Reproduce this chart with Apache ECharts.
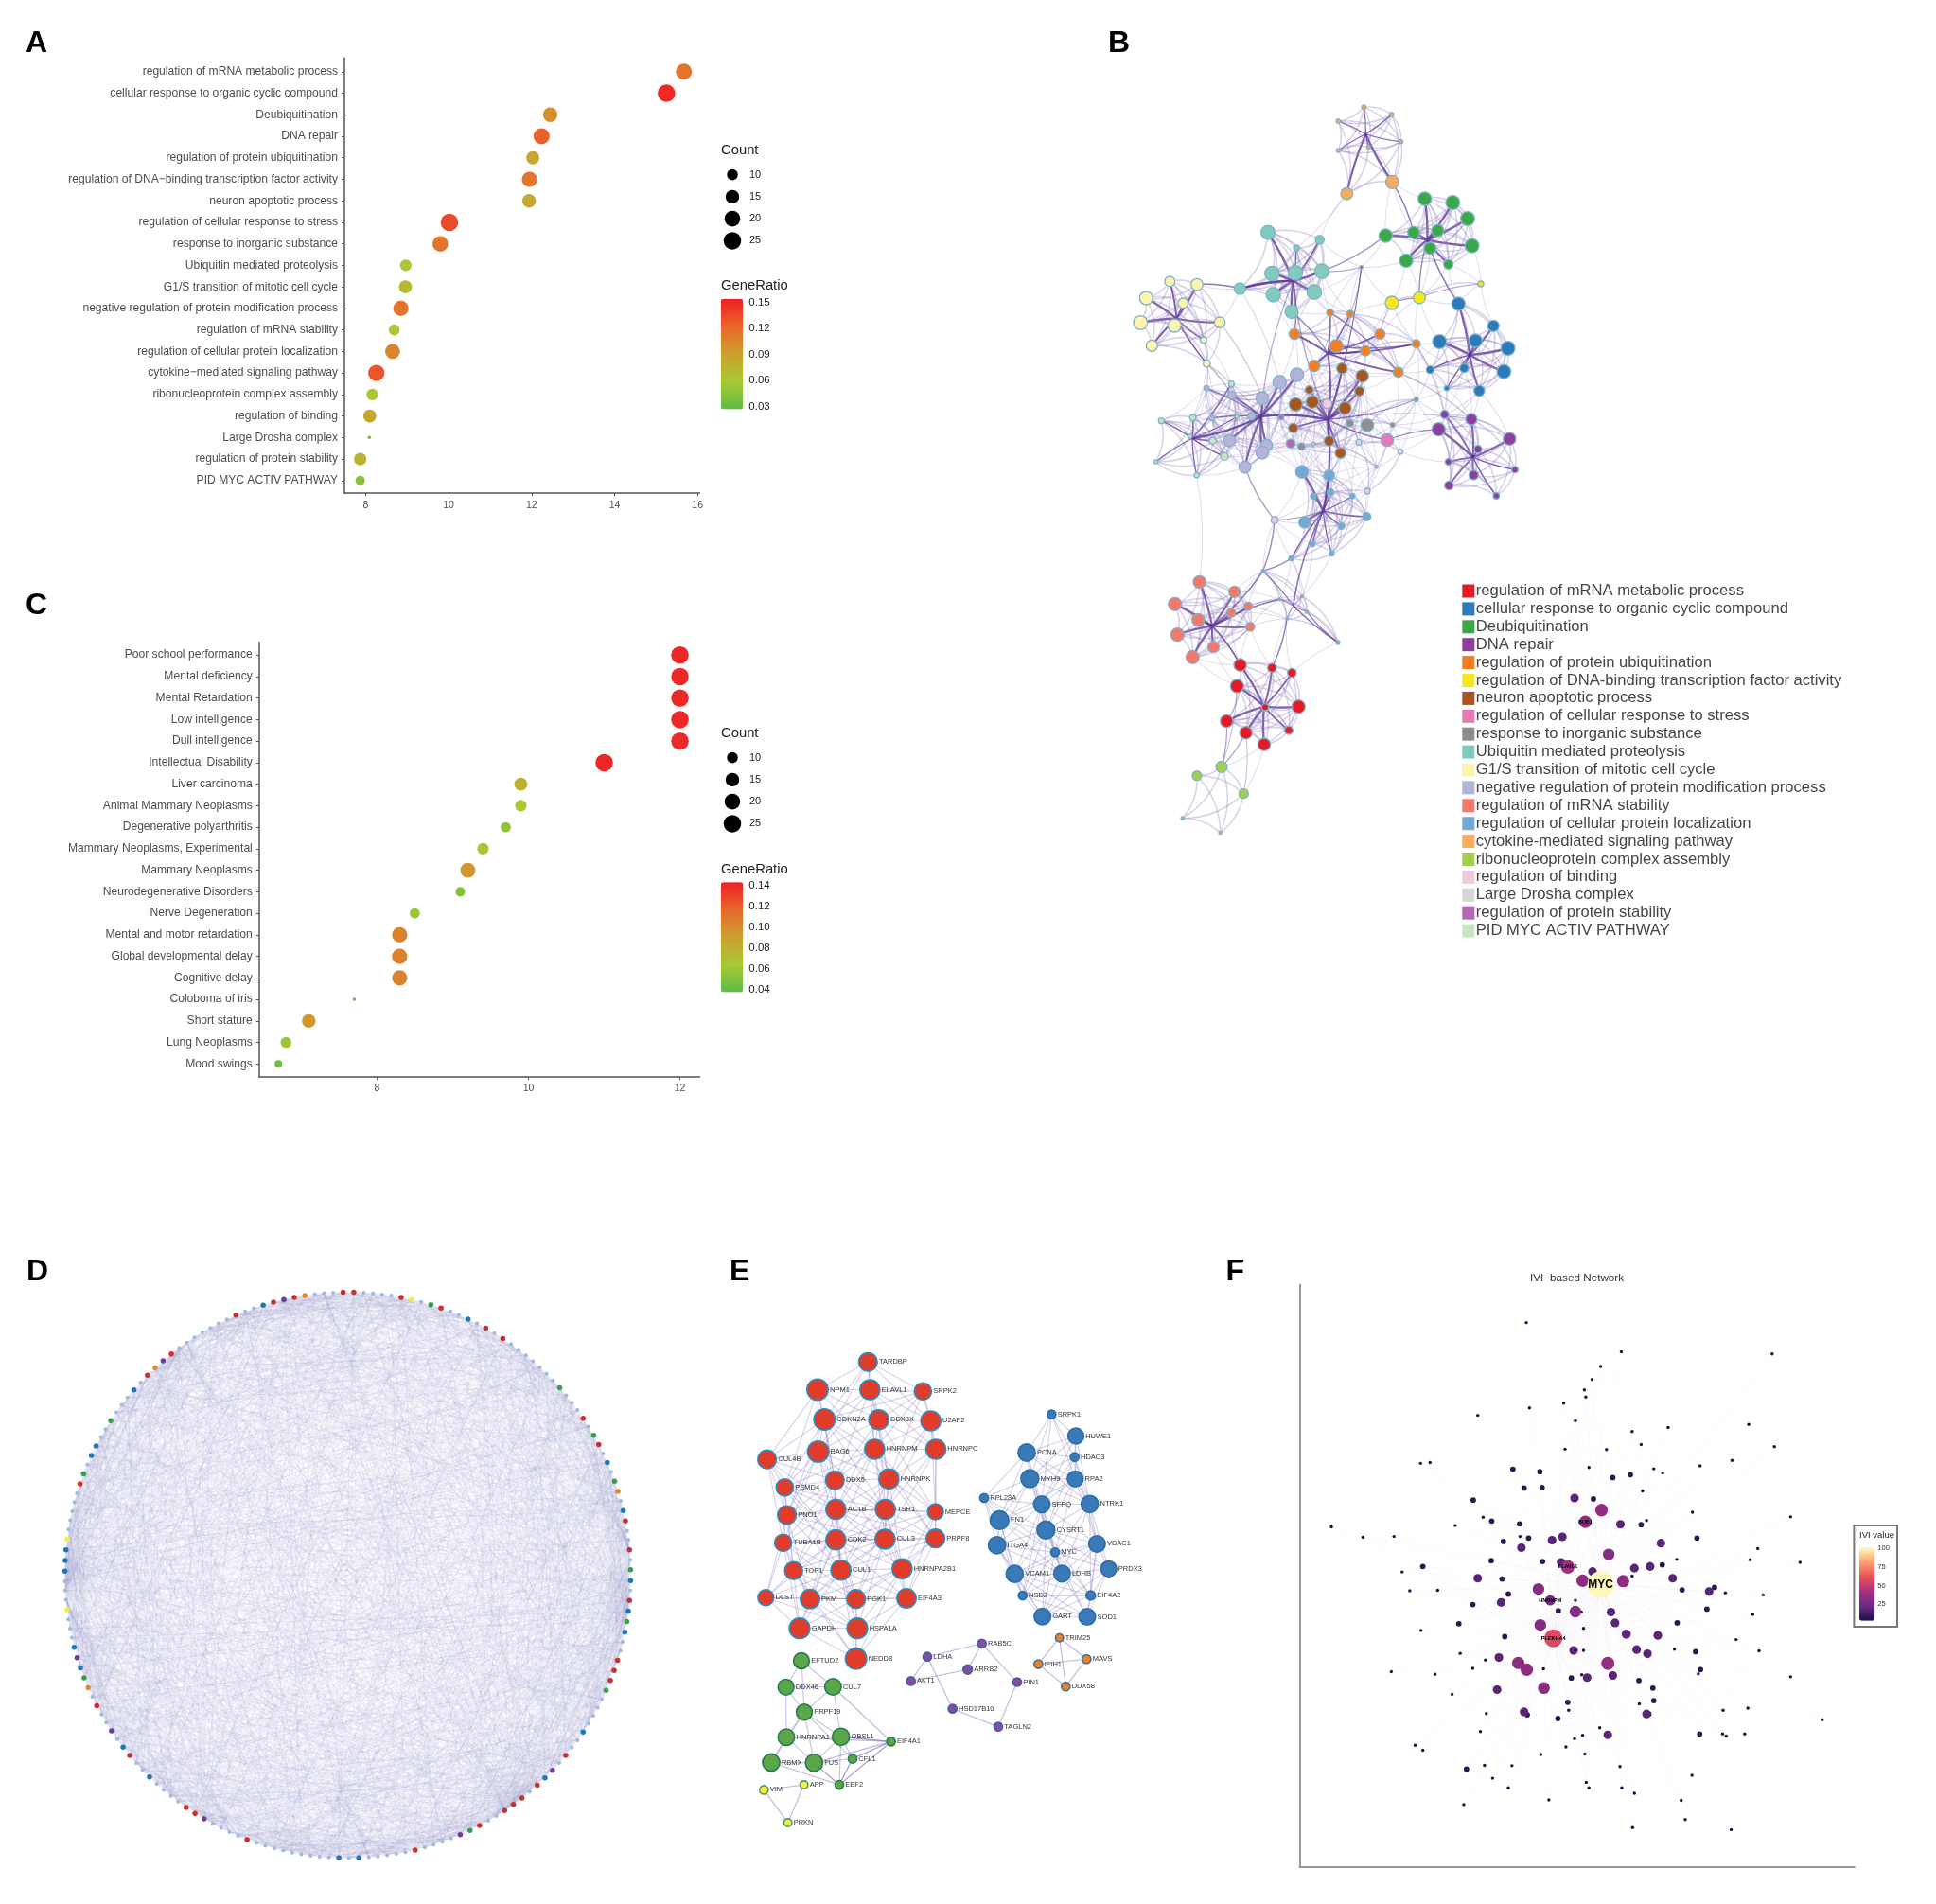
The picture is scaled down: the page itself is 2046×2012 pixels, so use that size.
<!DOCTYPE html>
<html>
<head>
<meta charset="utf-8">
<title>Enrichment and network panels</title>
<script src="https://cdn.jsdelivr.net/npm/echarts@6/dist/echarts.min.js"></script>
<style>
html, body { margin: 0; padding: 0; background: #fff; }
#main { width: 2046px; height: 2012px; }
</style>
</head>
<body>
<div id="main"></div>
<script>
// panel A
const aTerms = ['regulation of mRNA metabolic process', 'cellular response to organic cyclic compound', 'Deubiquitination', 'DNA repair', 'regulation of protein ubiquitination', 'regulation of DNA\u2212binding transcription factor activity', 'neuron apoptotic process', 'regulation of cellular response to stress', 'response to inorganic substance', 'Ubiquitin mediated proteolysis', 'G1/S transition of mitotic cell cycle', 'negative regulation of protein modification process', 'regulation of mRNA stability', 'regulation of cellular protein localization', 'cytokine\u2212mediated signaling pathway', 'ribonucleoprotein complex assembly', 'regulation of binding', 'Large Drosha complex', 'regulation of protein stability', 'PID MYC ACTIV PATHWAY'];
const aScore = [15.67, 15.25, 12.45, 12.24, 12.03, 11.95, 11.94, 10.02, 9.8, 8.97, 8.96, 8.85, 8.69, 8.65, 8.26, 8.16, 8.1, 8.09, 7.87, 7.87];
const aCount = [21, 25, 17, 21, 14, 19, 15, 25, 20, 11, 14, 19, 10, 18, 22, 11, 14, 4, 13, 8];
const aRatio = [0.115, 0.15, 0.1, 0.125, 0.085, 0.115, 0.085, 0.135, 0.115, 0.06, 0.07, 0.115, 0.06, 0.105, 0.13, 0.06, 0.085, 0.03, 0.075, 0.045];
const aXTicks = [8, 10, 12, 14, 16];
const aRatioTicks = [0.03, 0.06, 0.09, 0.12, 0.15];

// panel C
const cTerms = ['Poor school performance', 'Mental deficiency', 'Mental Retardation', 'Low intelligence', 'Dull intelligence', 'Intellectual Disability', 'Liver carcinoma', 'Animal Mammary Neoplasms', 'Degenerative polyarthritis', 'Mammary Neoplasms, Experimental', 'Mammary Neoplasms', 'Neurodegenerative Disorders', 'Nerve Degeneration', 'Mental and motor retardation', 'Global developmental delay', 'Cognitive delay', 'Coloboma of iris', 'Short stature', 'Lung Neoplasms', 'Mood swings'];
const cScore = [12, 12, 12, 12, 12, 11, 9.9, 9.9, 9.7, 9.4, 9.2, 9.1, 8.5, 8.3, 8.3, 8.3, 7.7, 7.1, 6.8, 6.7];
const cCount = [25, 25, 25, 25, 25, 25, 14, 11, 9, 11, 18, 8, 9, 19, 19, 19, 4, 15, 10, 6];
const cRatio = [0.14, 0.14, 0.14, 0.14, 0.14, 0.14, 0.08, 0.065, 0.055, 0.065, 0.095, 0.05, 0.06, 0.105, 0.105, 0.105, 0.04, 0.095, 0.06, 0.045];
const cXTicks = [8, 10, 12];
const cRatioTicks = [0.04, 0.06, 0.08, 0.1, 0.12, 0.14];

const countLegend = [10, 15, 20, 25];
const ratioColors = ['#5fba46', '#a7c932', '#cda02e', '#e8672a', '#ee1f26'];

const bTerms = ['regulation of mRNA metabolic process', 'cellular response to organic cyclic compound', 'Deubiquitination', 'DNA repair', 'regulation of protein ubiquitination', 'regulation of DNA-binding transcription factor activity', 'neuron apoptotic process', 'regulation of cellular response to stress', 'response to inorganic substance', 'Ubiquitin mediated proteolysis', 'G1/S transition of mitotic cell cycle', 'negative regulation of protein modification process', 'regulation of mRNA stability', 'regulation of cellular protein localization', 'cytokine-mediated signaling pathway', 'ribonucleoprotein complex assembly', 'regulation of binding', 'Large Drosha complex', 'regulation of protein stability', 'PID MYC ACTIV PATHWAY'];
const bColors = ['#e41a24', '#2b7bba', '#3aa846', '#8e3f9e', '#f57f20', '#f6e71c', '#a6561f', '#e779b5', '#8f8f8f', '#80cbbc', '#fbf3ae', '#b6b3d9', '#f4796b', '#74a9d4', '#fbab5c', '#a3cf4e', '#f6c8e0', '#d6d6d6', '#b566b5', '#c7e6c0'];
const bRed = [[482,1868,20],[583,1877,14],[646,1893,14],[472,1935,21],[667,2000,21],[561,2002,11],[439,2046,20],[500,2083,20],[636,2075,13],[558,2120,20]];
const bBlue = [[1174,723,21],[1285,793,18],[1114,843,22],[1228,840,21],[1331,864,22],[1084,932,12],[1192,927,14],[1318,938,22],[1137,991,8],[1240,999,17]];
const bGreen = [[1067,390,21],[1156,402,22],[1203,453,22],[943,507,21],[1032,497,19],[1108,491,19],[1217,539,22],[1084,547,19],[1008,586,21],[1142,598,15]];
const bPurple = [[1215,1089,18],[1130,1074,13],[1111,1121,21],[1336,1151,20],[1236,1184,12],[1142,1224,10],[1353,1249,10],[1222,1266,15],[1144,1299,14],[1294,1332,10]];
const bOrange = [[767,751,11],[831,755,11],[654,819,17],[925,819,16],[787,857,21],[879,872,16],[1040,850,13],[717,920,18],[983,940,16]];
const bYellow = [[963,720,21],[1050,704,19],[1245,660,9]];
const bBrown = [[805,928,17],[869,952,20],[701,996,13],[860,1000,15],[658,1042,21],[711,1034,20],[814,1054,20],[650,1117,15],[764,1158,16],[800,1196,17],[866,607,5]];
const bPink = [[948,1155,20]];
const bGray = [[885,1108,20],[830,1102,11],[676,1176,11],[1040,1026,7],[965,1107,7]];
const bTeal = [[570,497,22],[734,520,14],[660,546,9],[583,627,23],[657,625,23],[741,620,23],[481,675,18],[587,694,23],[717,686,23],[645,748,21]];
const bPaleYellow = [[259,652,16],[345,662,19],[184,705,21],[301,721,16],[166,783,22],[274,792,21],[417,782,17],[202,856,18],[366,838,10],[376,913,11]];
const bLavender = [[662,948,21],[607,971,21],[552,1022,20],[455,1013,13],[448,1157,19],[565,1172,19],[552,1195,20],[497,1241,19],[518,1080,12],[392,1085,9],[375,990,8]];
const bSalmon = [[353,1605,20],[464,1636,18],[275,1675,21],[349,1725,20],[453,1703,14],[508,1682,13],[514,1747,14],[283,1772,21],[397,1811,18],[331,1843,21]];
const bLightBlue = [[678,1256,20],[764,1267,17],[714,1333,9],[768,1321,11],[838,1333,8],[883,1398,13],[686,1416,18],[803,1428,10],[711,1485,8],[772,1515,8],[644,1530,8]];
const bLowerBlue = [[554,1570,5],[678,1650,4],[607,1660,4],[694,1700,4],[630,1722,4],[792,1797,6]];
const bLightOrange = [[874,100,7],[962,123,7],[793,144,7],[992,209,6],[793,237,6],[889,226,6],[820,374,19],[964,337,21]];
const bLime = [[423,2191,18],[345,2219,15],[493,2276,15],[299,2354,5],[419,2400,5]];
const bPalePink = [[758,1040,15],[858,1162,9],[990,1192,8],[885,1317,9],[591,1409,11]];
const bLightGray = [[714,1168,5],[914,1240,5]];
const bMauve = [[642,1166,14],[612,1083,8]];
const bPaleGreen = [[454,977,9],[232,1094,9],[332,1084,10],[472,1081,6],[323,1143,7],[395,1157,11],[432,1207,12],[344,1267,8],[214,1224,6]];
// [term index, nodes, bundling point of the thick edges]
const bGroups = [[0,bRed,[558,2000]],[1,bBlue,[1210,885]],[2,bGreen,[1075,520]],[3,bPurple,[1220,1210]],[4,bOrange,[760,880]],[5,bYellow,null],[6,bBrown,[760,1090]],[7,bPink,null],[8,bGray,null],[9,bTeal,[650,650]],[10,bPaleYellow,[280,770]],[11,bLavender,[548,1080]],[12,bSalmon,[393,1745]],[13,bLightBlue,[745,1380]],[13,bLowerBlue,[650,1680]],[14,bLightOrange,[880,185]],[15,bLime,null],[16,bPalePink,null],[17,bLightGray,null],[18,bMauve,null],[19,bPaleGreen,[330,1150]]];
// edges between the groups: from, to, width, opacity
const bBridges = [
  [[964,337],[1032,497],1.4,0.7],[[820,374],[660,546],1,0.25],[[943,507],[741,620],1.3,0.6],
  [[345,662],[481,675],1.5,0.7],[[481,675],[650,650],2,0.85],[[963,720],[1050,704],1.4,0.6],
  [[1050,704],[1245,660],1.2,0.5],[[1050,704],[1075,520],1.4,0.6],[[1174,723],[1075,520],1.5,0.7],
  [[376,913],[455,1013],1.2,0.35],[[376,913],[548,1080],1,0.3],[[417,782],[552,1022],1.2,0.3],
  [[481,675],[607,971],1.2,0.2],[[650,650],[654,819],1.6,0.6],[[645,748],[760,880],1.4,0.6],
  [[760,880],[760,1090],2,0.8],[[548,1080],[760,1090],2.4,0.9],[[760,1090],[745,1380],2.2,0.85],
  [[948,1155],[1111,1121],1.2,0.6],[[948,1155],[760,1090],1.6,0.7],[[1040,1026],[760,1090],1.3,0.6],
  [[983,940],[1215,1089],1.1,0.4],[[1040,850],[1130,1074],1.1,0.35],[[925,819],[963,720],1,0.3],
  [[866,607],[831,755],1,0.5],[[866,607],[741,620],1,0.4],[[1040,850],[787,857],1.5,0.65],
  [[767,751],[983,940],1.4,0.6],[[548,1080],[330,1150],2.2,0.85],[[344,1267],[353,1605],1,0.2],
  [[745,1380],[591,1409],1.2,0.5],[[591,1409],[497,1241],1.4,0.5],[[591,1409],[554,1570],1.4,0.6],
  [[554,1570],[393,1745],1.6,0.7],[[644,1530],[554,1570],1.2,0.5],[[650,1680],[745,1380],1.6,0.7],
  [[792,1797],[694,1700],1.2,0.7],[[630,1722],[583,1877],1.4,0.7],[[393,1745],[607,1660],1.6,0.7],
  [[393,1745],[482,1868],1.8,0.8],[[472,1935],[423,2191],1,0.35],[[439,2046],[423,2191],1.2,0.4],
  [[500,2083],[423,2191],1.2,0.4],[[500,2083],[493,2276],1,0.35],[[548,1080],[650,650],1.4,0.4],
  [[760,1090],[650,650],1.4,0.45],[[760,1090],[1215,1089],1.3,0.4]
];

// panel D: 180 nodes on the ring, index counted clockwise from 3 o'clock
const dNodeTotal = 180;
const dRed = [177,174,166,163,151,149,144,140,135,134,129,127,123,115,112,99,76,70,62,61,55,37,30,27,26,25,23,19,10,9,8,2];
const dBlue = [0,173,168,147,126,110,103,102,92,91,90,82,80,71,67,45,43,22,16,5,3];
const dGreen = [179,170,165,159,143,106,100,79,31,11,4];
const dPurple = [128,114,81,73,60,32,21];
const dOrange = [171,130,113,78];
const dYellow = [141,93,86];
// the individual chords cannot be read off the picture: these multipliers only reproduce the overall texture
const dChordMultipliers = [7,11,13,17,19,23,29,31,37,41,43,47,53,59];
const dDenseNodes = [25,26,27,2,3,177,91,90,89,115,128,60];

// panel E: name, x, y, radius
const eRed = [['TARDBP',472,110,28],['NPM1',312,192,32],['ELAVL1',478,192,30],['SRPK2',646,197,26],['CDKN2A',334,280,32],['DDX3X',506,281,30],['U2AF2',671,284,30],['BAG6',314,375,32],['HNRNPM',493,368,30],['HNRNPC',687,368,30],['CUL4B',152,398,28],['PSMD4',208,481,26],['DDX5',367,460,28],['HNRNPK',538,456,30],['ACTB',370,546,30],['TSR1',527,546,30],['MEPCE',686,553,24],['PNO1',215,563,28],['TUBA1B',203,645,26],['CDK2',370,636,30],['CUL3',526,634,30],['PRPF8',686,632,28],['TOP1',236,727,27],['CUL1',386,726,30],['HNRNPA2B1',580,722,30],['DLST',148,807,24],['PKM',288,811,29],['PGK1',434,811,28],['EIF4A3',594,809,29],['GAPDH',255,898,31],['HSPA1A',438,898,31],['NEDD8',434,988,32]];
const eBlue = [['SRPK1',1054,265,13],['HUWE1',1131,329,24],['HDAC3',1127,391,13],['PCNA',975,378,26],['MYH9',985,455,27],['RPA2',1129,456,24],['RPL23A',840,512,13],['SFPQ',1023,531,25],['NTRK1',1175,530,26],['FN1',889,578,28],['CYSRT1',1036,607,27],['ITGA4',881,652,26],['VDAC1',1198,648,25],['MYC',1065,673,13],['PRDX3',1235,722,24],['VCAM1',937,737,26],['LDHB',1087,736,25],['NSD2',962,801,13],['EIF4A2',1178,801,14],['GART',1025,863,25],['SOD1',1167,864,25]];
const eGreen = [['EFTUD2',261,994,24],['DDX46',212,1072,24],['CUL7',361,1071,25],['PRPF19',270,1146,24],['HNRNPA1',213,1220,25],['OBSL1',386,1219,26],['EIF4A1',545,1233,13],['RBMX',165,1295,26],['FUS',301,1296,26],['CFL1',423,1284,13],['EEF2',381,1361,13]];
const ePurple = [['LDHA',660,982,13],['RAB5C',833,943,13],['ARRB2',788,1020,14],['AKT1',608,1054,13],['PIN1',945,1057,13],['HSD17B10',740,1136,13],['TAGLN2',885,1189,13]];
const eOrange = [['TRIM25',1079,926,12],['IFIH1',1012,1004,13],['MAVS',1165,989,13],['DDX58',1099,1070,13]];
const eYellow = [['VIM',142,1376,13],['APP',269,1361,12],['PRKN',218,1473,12]];
const eLinks = [['LDHA','RAB5C'],['LDHA','AKT1'],['LDHA','HSD17B10'],['AKT1','ARRB2'],['RAB5C','ARRB2'],['RAB5C','PIN1'],['PIN1','TAGLN2'],['HSD17B10','TAGLN2'],['TRIM25','IFIH1'],['TRIM25','MAVS'],['TRIM25','DDX58'],['IFIH1','MAVS'],['IFIH1','DDX58'],['MAVS','DDX58'],['VIM','APP'],['VIM','PRKN'],['APP','PRKN'],['EIF4A1','CUL7'],['EIF4A1','FUS'],['EIF4A1','HNRNPA1'],['EIF4A1','OBSL1'],['EIF4A1','CFL1'],['EIF4A1','EEF2'],['FUS','EEF2'],['CFL1','EEF2'],['RBMX','EEF2']];

// panel F: x, y, IVI value
const fTiny = [[658,176],[869,246],[1204,251],[823,281],[804,312],[787,337],[790,354],[665,380],[741,369],[550,398],[767,411],[1152,420],[973,427],[893,437],[913,468],[1209,473],[744,479],[836,480],[1115,506],[423,513],[444,511],[797,523],[1044,519],[941,526],[961,536],[916,579],[1027,630],[1245,641],[225,665],[295,690],[364,688],[500,662],[562,642],[644,688],[1172,717],[1155,744],[1266,750],[992,743],[382,773],[399,818],[461,817],[1100,823],[1184,828],[767,841],[1161,875],[785,908],[424,913],[1124,935],[1175,962],[511,968],[358,1012],[455,1018],[1245,1024],[539,1004],[1040,1017],[493,1066],[1150,1099],[1095,1104],[1315,1127],[556,1155],[1143,1161],[1094,1161],[1102,1166],[411,1188],[428,1200],[866,1239],[1026,1260],[565,1236],[626,1237],[583,1267],[791,1277],[797,1290],[1002,1320],[1011,1366],[894,1385],[1113,1390],[519,1330],[708,1319],[898,1303],[870,1290],[618,1290],[788,1209],[690,1210],[746,1192],[765,1172],[783,1164],[821,1146],[752,1104],[569,1112],[909,1089],[781,1019],[785,961],[987,958],[696,1005],[567,984],[780,869],[893,783],[925,650]];
const fSmall = [[628,527],[688,533],[850,547],[889,540],[653,572],[693,571],[540,601],[807,598],[581,651],[643,658],[913,660],[607,700],[663,692],[1037,692],[580,746],[428,760],[694,748],[604,790],[618,826],[539,851],[508,897],[610,928],[729,866],[1059,862],[1004,816],[1076,810],[960,756],[1034,964],[1045,1007],[728,1124],[660,1115],[750,1085],[939,1051],[941,1081],[930,1113],[1043,1161],[525,1245],[758,1027],[908,1033],[993,895]];
const fMid = [[765,596],[867,659],[738,689],[715,697],[647,715],[957,704],[898,764],[933,760],[805,772],[735,750],[550,788],[983,788],[1064,820],[602,846],[846,869],[855,895],[950,925],[927,969],[903,959],[763,961],[597,978],[793,1026],[850,1021],[593,1055],[653,1108],[925,1113],[839,1163]];
const fLarge = [[825,625,34],[841,731,30],[783,794,33],[873,795,33],[685,814,30],[767,868,30],[689,900,30],[880,922,20],[640,991,33],[659,1007,34],[697,1051,31],[839,992,36]];
const fNamed = [['MYC',823,803,100],['PLEKHA4',718,932,58],['ELAVL1',750,761,38],['BUB1',789,653,33],['HNRNPM',711,841,24]];
const fIviTicks = [25, 50, 75, 100];
const fColors = ['#1a1044', '#6a2a85', '#a8307f', '#e8505a', '#fe9f6d', '#fcfdbf'];

const FONT = '"Liberation Sans", Arial, sans-serif';

function dotSize(count) {
    return 3.5 + 15 * Math.sqrt(Math.max(count - 4, 0) / 21);
}
function iviSize(ivi) {
    return 2.8 + 25 * Math.pow(ivi / 100, 0.8);
}

var grids = [], xAxes = [], yAxes = [], series = [], visualMaps = [], titles = [];

function addGrid(box, x, y) {
    grids.push(Object.assign({ containLabel: false }, box));
    var idx = grids.length - 1;
    xAxes.push(Object.assign({ gridIndex: idx }, x));
    yAxes.push(Object.assign({ gridIndex: idx }, y));
    return idx;
}
function hiddenAxis(min, max, inverse) {
    return { type: 'value', show: false, min: min, max: max, inverse: !!inverse, splitLine: { show: false } };
}
function addText(text, left, top, size, weight, color) {
    titles.push({
        text: text, left: left, top: top, padding: 0,
        textStyle: { fontFamily: FONT, fontSize: size, fontWeight: weight || 'normal', color: color || '#222', lineHeight: size }
    });
}

// one dot plot with its count legend and colour bar
function dotPlot(o) {
    var idx = o.terms.map(function (t, i) { return i; });
    var g = addGrid(o.box, {
        type: 'value', min: o.xMin, max: o.xMax,
        axisLine: { show: true, onZero: false, lineStyle: { color: '#555', width: 1.5 } },
        axisTick: { show: true, length: 3, customValues: o.xTicks, lineStyle: { color: '#555' } },
        axisLabel: { customValues: o.xTicks, color: '#4d4d4d', fontFamily: FONT, fontSize: 10.5, margin: 7 },
        splitLine: { show: false }
    }, {
        type: 'value', inverse: true, min: o.yMin, max: o.yMax,
        axisLine: { show: true, onZero: false, lineStyle: { color: '#555', width: 1.5 } },
        axisTick: { show: true, length: 3, customValues: idx, lineStyle: { color: '#555' } },
        axisLabel: {
            customValues: idx, color: '#4d4d4d', fontFamily: FONT, fontSize: 12.1, margin: 7,
            formatter: function (v) { return o.terms[v]; }
        },
        splitLine: { show: false }
    });
    series.push({
        type: 'scatter', xAxisIndex: g, yAxisIndex: g, silent: true,
        itemStyle: { opacity: 1 },
        symbolSize: function (v) { return dotSize(v[3]); },
        data: o.terms.map(function (t, i) { return [o.score[i], i, o.ratio[i], o.count[i]]; })
    });
    visualMaps.push({
        type: 'continuous', seriesIndex: series.length - 1, dimension: 2,
        min: o.ratioMin, max: o.ratioMax, left: 761.8, top: o.barTop, padding: 0,
        itemWidth: 23.5, itemHeight: o.barHeight, calculable: false, hoverLink: false,
        inRange: { color: ratioColors }, textStyle: { color: 'transparent' }
    });
    // count legend
    var lg = addGrid({ left: 762, width: 24, top: o.countTop, height: 93 }, hiddenAxis(0, 1), {
        type: 'category', inverse: true, position: 'right', data: countLegend.map(String),
        axisLine: { show: false }, axisTick: { show: false },
        axisLabel: { color: '#222', fontFamily: FONT, fontSize: 11, margin: 6, interval: 0 }
    });
    series.push({
        type: 'scatter', xAxisIndex: lg, yAxisIndex: lg, silent: true,
        symbolSize: function (v) { return dotSize(+v[2]); },
        itemStyle: { color: '#000', opacity: 1 },
        data: countLegend.map(function (c) { return [0.5, String(c), c]; })
    });
    // tick labels of the colour bar
    addGrid({ left: 761.8, width: 23.5, top: o.barTop, height: o.barHeight }, hiddenAxis(0, 1), {
        type: 'value', position: 'right', min: o.ratioMin, max: o.ratioMax,
        axisLine: { show: false },
        axisTick: { show: true, inside: true, length: 4, customValues: o.ratioTicks, lineStyle: { color: 'rgba(255,255,255,0.6)' } },
        axisLabel: { customValues: o.ratioTicks, color: '#222', fontFamily: FONT, fontSize: 11.5, margin: 6, formatter: function (v) { return v.toFixed(2); } },
        splitLine: { show: false }
    });
    addText('Count', 762, o.countTitle, 14.8);
    addText('GeneRatio', 762, o.ratioTitle, 14.8);
}

dotPlot({
    terms: aTerms, score: aScore, count: aCount, ratio: aRatio, xTicks: aXTicks, ratioTicks: aRatioTicks,
    box: { left: 364, top: 61.2, width: 375.4, height: 460 },
    xMin: 7.49, xMax: 16.05, yMin: -0.642, yMax: 19.59,
    ratioMin: 0.0266, ratioMax: 0.1543, barTop: 315.7, barHeight: 116.8,
    countTop: 173, countTitle: 151.5, ratioTitle: 295
});
dotPlot({
    terms: cTerms, score: cScore, count: cCount, ratio: cRatio, xTicks: cXTicks, ratioTicks: cRatioTicks,
    box: { left: 273.8, top: 678.5, width: 465.6, height: 459.5 },
    xMin: 6.444, xMax: 12.26, yMin: -0.6, yMax: 19.6,
    ratioMin: 0.0379, ratioMax: 0.1434, barTop: 932.2, barHeight: 116.3,
    countTop: 789, countTitle: 768, ratioTitle: 912
});

// panel B
(function () {
    var g = addGrid({ left: 1150, top: 80, width: 520, height: 820 }, hiddenAxis(0, 1560), hiddenAxis(0, 2460, true));
    var nodes = [], links = [], index = {}, owner = [];
    function put(p, term, r) {
        var key = p[0] + ',' + p[1];
        index[key] = nodes.length;
        nodes.push({
            name: 'b' + nodes.length, value: [p[0], p[1]], category: term, symbolSize: r * 2 / 3,
            itemStyle: r ? { color: bColors[term], borderColor: '#7fb3c8', borderWidth: 1.3 } : { opacity: 0 }
        });
        return nodes.length - 1;
    }
    bGroups.forEach(function (grp, gi) {
        var start = nodes.length;
        grp[1].forEach(function (n) { put(n, grp[0], n[2]); owner.push(gi); });
        var end = nodes.length;
        if (grp[2]) {
            var hub = put(grp[2], grp[0], 0);
            owner.push(-1);
            for (var i = start; i < end; i++) {
                links.push({ source: i, target: hub, lineStyle: { width: 0.6 + nodes[i].symbolSize / 8, opacity: 0.75, color: '#54278f', curveness: 0.05 } });
            }
        }
    });
    // lighter arcs: stronger inside a group, fainter across groups
    nodes.forEach(function (na, a) {
        if (owner[a] < 0) return;
        nodes.forEach(function (nb, b) {
            if (b <= a || owner[b] < 0) return;
            var d = Math.hypot(na.value[0] - nb.value[0], na.value[1] - nb.value[1]);
            if (owner[a] === owner[b] && d < 240) {
                links.push({ source: a, target: b, lineStyle: { width: 1.5, opacity: 0.36, color: '#8f7fc0', curveness: 0.2 } });
            } else if (owner[a] !== owner[b] && d < 180) {
                links.push({ source: a, target: b, lineStyle: { width: 1.1, opacity: 0.26, color: '#8f7fc0', curveness: 0.1 } });
            }
        });
    });
    bBridges.forEach(function (br) {
        links.push({
            source: index[br[0][0] + ',' + br[0][1]], target: index[br[1][0] + ',' + br[1][1]],
            lineStyle: { width: br[2], opacity: br[3], color: '#5e3c99', curveness: 0.08 }
        });
    });
    series.push({
        type: 'graph', coordinateSystem: 'cartesian2d', xAxisIndex: g, yAxisIndex: g, silent: true, z: 3,
        categories: bTerms.map(function (t, i) { return { name: t, itemStyle: { color: bColors[i] } }; }),
        data: nodes, links: links
    });
})();

// panel D
(function () {
    var fills = [[dRed, '#c8322e'], [dBlue, '#1f78b4'], [dGreen, '#3a9e46'], [dPurple, '#6a3d9a'], [dOrange, '#e08a2e'], [dYellow, '#f2ee4a']];
    var nodes = [], links = [];
    for (var i = 0; i < dNodeTotal; i++) {
        var col = '#9dbde0', size = 4;
        fills.forEach(function (f) { if (f[0].indexOf(i) >= 0) { col = f[1]; size = 5.5; } });
        nodes.push({ name: 'd' + i, symbolSize: size, itemStyle: { color: col } });
    }
    dChordMultipliers.forEach(function (m, k) {
        for (var n = 0; n < dNodeTotal; n++) {
            var t = (n * m + k * 11) % dNodeTotal;
            if (t !== n) links.push({ source: n, target: t });
        }
    });
    dDenseNodes.forEach(function (d) {
        for (var t = 0; t < dNodeTotal; t += 4) {
            if (t !== d) links.push({ source: d, target: t });
        }
    });
    series.push({
        type: 'graph', layout: 'circular', left: 68.5, top: 1365.5, width: 598, height: 598, silent: true, z: 3,
        data: nodes, links: links,
        lineStyle: { color: '#7a74b8', width: 0.5, opacity: 0.12, curveness: 0 }
    });
})();

// panel E
(function () {
    var g = addGrid({ left: 760, top: 1400, width: 500, height: 560 }, hiddenAxis(0, 1500), hiddenAxis(0, 1568, true));
    var groups = [
        [eRed, '#e13c2a', '#2d8bc0', 330, 0.34],
        [eBlue, '#3a7ab8', '#2a6ea8', 280, 0.34],
        [eGreen, '#5aa648', '#2a7a50', 210, 0.45],
        [ePurple, '#8a4aa0', '#3a60a8', 0, 0],
        [eOrange, '#f08020', '#3a70a0', 0, 0],
        [eYellow, '#f5ee3a', '#4a9a70', 0, 0]
    ];
    var nodes = [], links = [];
    groups.forEach(function (grp) {
        var list = grp[0];
        list.forEach(function (n, i) {
            nodes.push({
                name: n[0], value: [n[1], n[2]], symbolSize: n[3] * 0.7,
                itemStyle: { color: grp[1], borderColor: grp[2], borderWidth: 1.6 },
                label: { show: true, position: 'right', distance: 1, formatter: n[0], fontFamily: FONT, fontSize: 7.5, color: '#333' }
            });
            list.slice(i + 1).forEach(function (m) {
                if (Math.hypot(n[1] - m[1], n[2] - m[2]) < grp[3]) {
                    links.push({ source: n[0], target: m[0], lineStyle: { opacity: grp[4] } });
                }
            });
        });
    });
    eLinks.forEach(function (l) { links.push({ source: l[0], target: l[1] }); });
    series.push({
        type: 'graph', coordinateSystem: 'cartesian2d', xAxisIndex: g, yAxisIndex: g, silent: true, z: 3,
        data: nodes, links: links,
        lineStyle: { color: '#8578bd', width: 1.1, opacity: 0.55, curveness: 0 }
    });
})();

// panel F
(function () {
    var frame = { show: true, onZero: false, lineStyle: { color: '#999', width: 2 } };
    var g = addGrid({ left: 1373.3, top: 1357.5, width: 586.6, height: 615.6 }, {
        type: 'value', min: 154, max: 1387, axisLine: frame, axisTick: { show: false }, axisLabel: { show: false }, splitLine: { show: false }
    }, {
        type: 'value', inverse: true, min: 85, max: 1480, axisLine: frame, axisTick: { show: false }, axisLabel: { show: false }, splitLine: { show: false }
    });
    var points = fTiny.map(function (p) { return { value: [p[0], p[1], 1] }; })
        .concat(fSmall.map(function (p) { return { value: [p[0], p[1], 7] }; }))
        .concat(fMid.map(function (p) { return { value: [p[0], p[1], 18] }; }))
        .concat(fLarge.map(function (p) { return { value: p }; }))
        .concat(fNamed.map(function (p) {
            var big = p[0] === 'MYC';
            return {
                name: p[0], value: [p[1], p[2], p[3]],
                label: { show: true, position: 'inside', formatter: p[0], fontFamily: FONT, fontWeight: 'bold', fontSize: big ? 12 : 5.5, color: '#000' }
            };
        }));
    var centre = fNamed[0], red = fNamed[1];
    var web = [{ name: 'hubA', value: [centre[1], centre[2]] }, { name: 'hubB', value: [red[1], red[2]] }];
    var webLinks = [];
    points.forEach(function (p, i) {
        web.push({ name: 'f' + i, value: [p.value[0], p.value[1]] });
        webLinks.push({ source: 0, target: i + 2 });
        webLinks.push({ source: 1, target: i + 2 });
    });
    series.push({
        type: 'graph', coordinateSystem: 'cartesian2d', xAxisIndex: g, yAxisIndex: g, silent: true, z: 1,
        symbolSize: 0, data: web, links: webLinks,
        lineStyle: { color: '#cbbcd6', width: 0.6, opacity: 0.08, curveness: 0 }
    });
    series.push({
        type: 'scatter', xAxisIndex: g, yAxisIndex: g, silent: true, z: 4,
        symbolSize: function (v) { return iviSize(v[2]); },
        itemStyle: { opacity: 1 },
        data: points
    });
    visualMaps.push({
        type: 'continuous', seriesIndex: series.length - 1, dimension: 2,
        min: 2.4, max: 101.1, left: 1965, top: 1635.5, padding: 0, itemWidth: 16.3, itemHeight: 77.3,
        calculable: false, hoverLink: false, inRange: { color: fColors }
    });
    addGrid({ left: 1965, width: 16.3, top: 1635.5, height: 77.3 }, hiddenAxis(0, 1), {
        type: 'value', position: 'right', min: 2.4, max: 101.1,
        axisLine: { show: false }, axisTick: { show: false },
        axisLabel: { customValues: fIviTicks, color: '#333', fontFamily: FONT, fontSize: 7.5, margin: 3 },
        splitLine: { show: false }
    });
})();

addText('A', 27, 30, 32, 'bold', '#000');
addText('B', 1171, 30, 32, 'bold', '#000');
addText('C', 27, 624.5, 32, 'bold', '#000');
addText('D', 28, 1328.5, 32, 'bold', '#000');
addText('E', 771, 1328.5, 32, 'bold', '#000');
addText('F', 1295.5, 1328.5, 32, 'bold', '#000');
addText('IVI\u2212based Network', 1617, 1345, 11.7, 'normal', '#333');
addText('IVI value', 1965, 1618, 9.5, 'normal', '#222');

var myChart = echarts.init(document.getElementById('main'));
myChart.setOption({
    animation: false,
    backgroundColor: '#fff',
    title: titles,
    grid: grids,
    xAxis: xAxes,
    yAxis: yAxes,
    visualMap: visualMaps,
    legend: {
        show: true, orient: 'vertical', left: 1545.3, top: 616, padding: 0,
        itemWidth: 13, itemHeight: 14, itemGap: 1.9, icon: 'rect',
        selectedMode: false,
        textStyle: { fontFamily: FONT, fontSize: 16.6, color: '#444', padding: [0, 0, 0, -3.5] },
        data: bTerms
    },
    graphic: [{
        type: 'rect', silent: true, z: 10,
        shape: { x: 1959.4, y: 1612, width: 45.6, height: 107 },
        style: { fill: 'none', stroke: '#777', lineWidth: 2 }
    }],
    series: series
});
</script>
</body>
</html>
